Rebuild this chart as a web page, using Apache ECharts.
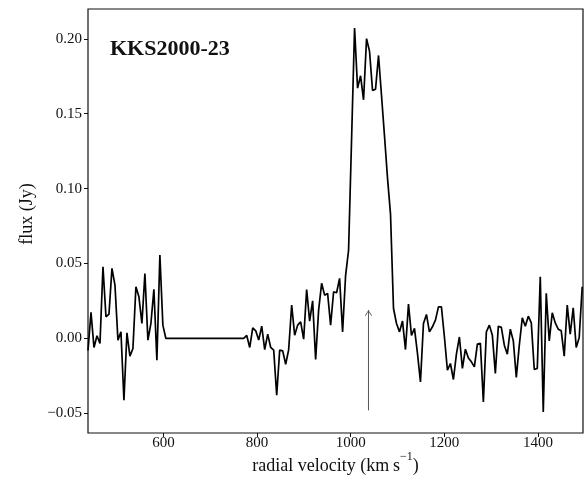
<!DOCTYPE html>
<html>
<head>
<meta charset="utf-8">
<script src="https://cdn.jsdelivr.net/npm/echarts@6/dist/echarts.min.js"></script>
<style>
  html, body { margin: 0; padding: 0; background: #fff; }
  #chart { width: 584px; height: 477px; }
</style>
</head>
<body>
<div id="chart"></div>
<script>
// HI spectrum of KKS2000-23: channel velocities (km/s) and flux densities (Jy)
const velocity = [
  438.7, 445.1, 451.5, 457.9, 464.3, 470.7, 477.1, 483.5, 489.9, 496.3,
  502.7, 509.1, 515.5, 521.9, 528.3, 534.7, 541.1, 547.5, 553.9, 560.3,
  566.7, 573.1, 579.5, 585.9, 592.3, 598.7, 605.1, 611.5, 617.9, 624.3,
  630.7, 637.1, 643.5, 649.9, 656.3, 662.7, 669.1, 675.5, 681.9, 688.3,
  694.7, 701.1, 707.5, 713.9, 720.3, 726.7, 733.1, 739.5, 745.9, 752.3,
  758.7, 765.1, 771.5, 777.9, 784.3, 790.7, 797.1, 803.5, 809.9, 816.3,
  822.7, 829.1, 835.5, 841.9, 848.3, 854.7, 861.1, 867.5, 873.9, 880.3,
  886.7, 893.1, 899.5, 905.9, 912.3, 918.7, 925.1, 931.5, 937.9, 944.3,
  950.7, 957.1, 963.5, 969.9, 976.3, 982.7, 989.1, 995.5, 1001.9, 1008.3,
  1014.7, 1021.1, 1027.5, 1033.9, 1040.3, 1046.7, 1053.1, 1059.5, 1065.9, 1072.3,
  1078.7, 1085.1, 1091.5, 1097.9, 1104.3, 1110.7, 1117.1, 1123.5, 1129.9, 1136.3,
  1142.7, 1149.1, 1155.5, 1161.9, 1168.3, 1174.7, 1181.1, 1187.5, 1193.9, 1200.3,
  1206.7, 1213.1, 1219.5, 1225.9, 1232.3, 1238.7, 1245.1, 1251.5, 1257.9, 1264.3,
  1270.7, 1277.1, 1283.5, 1289.9, 1296.3, 1302.7, 1309.1, 1315.5, 1321.9, 1328.3,
  1334.7, 1341.1, 1347.5, 1353.9, 1360.3, 1366.7, 1373.1, 1379.5, 1385.9, 1392.3,
  1398.7, 1405.1, 1411.5, 1417.9, 1424.3, 1430.7, 1437.1, 1443.5, 1449.9, 1456.3,
  1462.7, 1469.1, 1475.5, 1481.9, 1488.3, 1494.7
];

const flux = [
  -0.008, 0.0174, -0.006, 0.0018, -0.0034, 0.0479, 0.0145, 0.0162, 0.0468, 0.0356,
  -0.0011, 0.0044, -0.0412, 0.0038, -0.0118, -0.0067, 0.0345, 0.0278, 0.010, 0.0434,
  -0.0011, 0.010, 0.0328, -0.0145, 0.0557, 0.0089, 0.0,
  0, 0, 0, 0, 0, 0, 0, 0, 0, 0, 0, 0, 0,
  0, 0, 0, 0, 0, 0, 0, 0, 0, 0, 0, 0, 0,
  0.002, -0.006, 0.0071, 0.0051, -0.0011, 0.0082, -0.0074, 0.0029, -0.006, -0.0078,
  -0.0379, -0.0078, -0.0083, -0.0172, -0.0074, 0.0223, 0.0022, 0.0089, 0.0111, -0.0005,
  0.0327, 0.0116, 0.0251, -0.014, 0.0189, 0.0368, 0.0289, 0.0301, 0.0089, 0.0312,
  0.0305, 0.0401, 0.0044, 0.042, 0.059, 0.133, 0.2072, 0.1671, 0.1753, 0.1593,
  0.2001, 0.1916, 0.1655, 0.1664, 0.1889, 0.162, 0.135, 0.107, 0.083, 0.020,
  0.010, 0.0044, 0.0116, -0.0074, 0.0229, 0.002, 0.0067, -0.010, -0.029, 0.010,
  0.016, 0.0044, 0.0078, 0.0122, 0.0211, 0.0211, 0.001, -0.0212, -0.0167, -0.0274,
  -0.0105, 0.001, -0.020, -0.0072, -0.013, -0.0156, -0.019, -0.0038, -0.0033, -0.0424,
  0.0044, 0.0089, 0.0022, -0.0234, 0.0082, 0.0074, -0.0045, -0.0105, 0.0062, -0.0016,
  -0.026, -0.0045, 0.0138, 0.0082, 0.0149, 0.0104, -0.0207, -0.020, 0.0412, -0.049,
  0.0301, -0.0016, 0.0171, 0.0104, 0.0062, 0.0051, -0.0118, 0.0223, 0.0029, 0.0205,
  -0.006, 0.0007, 0.0345
];

// Tick positions
const xTicks = [600, 800, 1000, 1200, 1400];
const yTicks = [-0.05, 0.00, 0.05, 0.10, 0.15, 0.20];

// Marker arrow at the optical velocity
const arrowVelocity = 1038;
const arrowFlux = [-0.048, 0.019];

const sourceName = 'KKS2000-23';

const SERIF = '"Liberation Serif", "DejaVu Serif", serif';

const chart = echarts.init(document.getElementById('chart'), null, { renderer: 'canvas' });

const spectrum = velocity.map((v, i) => [v, flux[i]]);

const option = {
  animation: false,
  backgroundColor: '#ffffff',
  grid: {
    left: 88, right: 1, top: 9, bottom: 44,
    outerBoundsMode: 'none',
    show: true, borderColor: '#111', borderWidth: 1.2, backgroundColor: 'transparent'
  },
  xAxis: {
    type: 'value',
    min: 438.7, max: 1496.4,
    axisLine: { show: false, onZero: false },
    splitLine: { show: false },
    axisTick: { show: true, customValues: xTicks, length: 4, lineStyle: { color: '#111', width: 1 } },
    axisLabel: {
      customValues: xTicks, margin: 3,
      color: '#111', fontFamily: SERIF, fontSize: 15,
      formatter: v => String(Math.round(v))
    },
    name: '{a|radial velocity (km\u2009s}{s|\u22121}{a|)}',
    nameLocation: 'middle', nameGap: 18, nameMoveOverlap: false,
    nameTextStyle: {
      rich: {
        a: { fontFamily: SERIF, fontSize: 18, color: '#111', lineHeight: 24, verticalAlign: 'bottom' },
        s: { fontFamily: SERIF, fontSize: 12, color: '#111', lineHeight: 24, verticalAlign: 'top' }
      }
    }
  },
  yAxis: {
    type: 'value',
    min: -0.0631, max: 0.2199,
    axisLine: { show: false, onZero: false },
    splitLine: { show: false },
    axisTick: { show: true, customValues: yTicks, length: 4, lineStyle: { color: '#111', width: 1 } },
    axisLabel: {
      customValues: yTicks, margin: 6,
      color: '#111', fontFamily: SERIF, fontSize: 15,
      formatter: v => v.toFixed(2).replace('-', '\u2212')
    },
    name: 'flux (Jy)',
    nameLocation: 'middle', nameGap: 52, nameRotate: 90, nameMoveOverlap: false,
    nameTextStyle: { fontFamily: SERIF, fontSize: 18, color: '#111', padding: [0, 0, 0, 14] }
  },
  graphic: [{
    type: 'text', left: 110, top: 38,
    style: { text: sourceName, fontFamily: SERIF, fontWeight: 'bold', fontSize: 22, fill: '#111' }
  }],
  series: [
    {
      type: 'line',
      data: spectrum,
      showSymbol: false,
      lineStyle: { color: '#000', width: 1.7 },
      z: 3
    },
    {
      type: 'line',
      data: [
        { value: [arrowVelocity, arrowFlux[0]], symbol: 'none' },
        {
          value: [arrowVelocity, arrowFlux[1]],
          symbol: 'path://M0,10 L5,0 L10,10 L9,10.7 L5,2.4 L1,10.7 Z',
          symbolSize: [7, 6], symbolOffset: [0, 3]
        }
      ],
      showSymbol: true,
      lineStyle: { color: '#555', width: 1 },
      itemStyle: { color: '#555' },
      z: 2
    }
  ]
};

chart.setOption(option);
</script>
</body>
</html>
